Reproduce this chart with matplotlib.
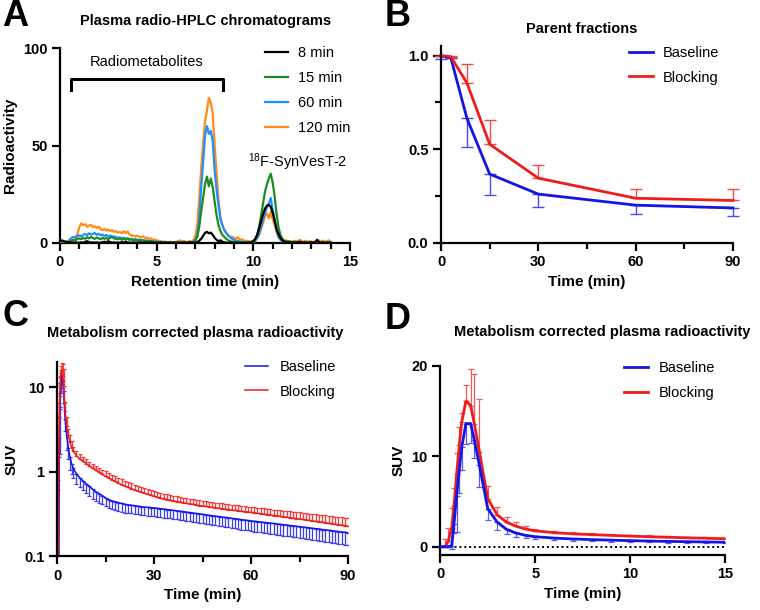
import numpy as np
import matplotlib
matplotlib.use("Agg")
import matplotlib.pyplot as plt
from matplotlib.ticker import MultipleLocator, FixedLocator, NullLocator

plt.rcParams["font.family"] = ["Liberation Sans", "DejaVu Sans"]
plt.rcParams["font.weight"] = "bold"
plt.rcParams["axes.labelweight"] = "bold"
plt.rcParams["axes.linewidth"] = 1.6

# ---------------- A: radio-HPLC chromatograms (0.1 min sampling) ----------------
RT = np.round(np.arange(141) * 0.1, 1)

HPLC_8 = [
    1.0, 1.2, 0.8, 0.5, 0.3, 0.2, 0, 0, 0.1, 0,
    0, 0.2, 0, 0.5, 0.8, 0.3, 0, 0.2, 0, 0.1,
    0, 0, 0.3, 0.5, 0.2, 0.8, 0.3, 0, 0.2, 0,
    0.1, 0, 0.3, 0, 0.5, 0.2, 0, 0, 0.1, 0,
    0, 0.2, 0, 0, 0.1, 0, 0, 0.2, 0, 0,
    0, 0, 0.1, 0, 0, 0, 0.1, 0, 0, 0,
    0, 0, 0, 0.1, 0, 0, 0, 0.2, 0, 0,
    0, 0.3, 1.0, 2.0, 3.5, 5.0, 5.6, 4.8, 5.2, 4.0,
    2.5, 1.5, 0.8, 1.2, 0.5, 0.2, 0, 0, 0.1, 0,
    0, 0, 0, 0.1, 0, 0, 0, 0, 0.1, 0.2,
    0.8, 2.0, 4.0, 7.5, 11.0, 14.5, 17.5, 19.0, 19.5, 18.5,
    15.5, 11.5, 7.0, 4.5, 2.5, 1.2, 0.6, 0.3, 0.2, 0.1,
    0, 0.1, 0, 0.2, 0.5, 0.2, 0, 0.1, 0, 0,
    0.2, 0, 0.1, 1.5, 0.2, 0, 0.1, 0, 0, 0,
    0,
]
HPLC_15 = [
    0, 0, 0, 0, 0.3, 0.5, 1.0, 1.5, 1.2, 2.0,
    2.2, 1.8, 2.5, 2.0, 2.8, 2.2, 3.0, 2.4, 2.0, 2.6,
    2.2, 1.8, 2.5, 2.0, 2.4, 1.8, 2.6, 3.0, 2.2, 2.0,
    1.8, 2.2, 1.5, 2.0, 1.6, 2.2, 1.4, 1.8, 1.2, 1.5,
    1.2, 1.5, 1.0, 1.3, 0.8, 1.0, 0.6, 0.8, 0.5, 0.4,
    0.3, 0.2, 0.1, 0.2, 0, 0.1, 0, 0, 0.1, 0,
    0, 0, 0.1, 0, 0, 0.1, 0, 0, 0.2, 0.3,
    1.0, 3.0, 8.0, 16.0, 23.0, 30.0, 34.0, 29.0, 33.0, 28.5,
    21.0, 14.0, 9.0, 6.0, 4.0, 3.0, 2.0, 1.2, 0.8, 0.5,
    0.3, 0.2, 0.1, 0, 0.1, 0, 0, 0.1, 0, 0.2,
    0.5, 1.5, 4.0, 8.0, 14.0, 20.0, 26.0, 30.0, 33.0, 35.5,
    31.0, 24.0, 15.0, 8.0, 4.0, 2.0, 1.0, 0.5, 0.8, 0.5,
    0.3, 0.5, 0.2, 0.4, 0.2, 0.3, 0.1, 0.2, 0.1, 0,
    0, 0.1, 0, 0.1, 0, 0, 0.1, 0, 0, 0,
    0,
]
HPLC_60 = [
    0, 0, 0, 0.2, 0.5, 1.5, 2.5, 3.0, 2.8, 3.5,
    3.8, 3.2, 4.0, 4.5, 3.8, 4.8, 4.2, 4.5, 5.0, 4.0,
    4.6, 3.8, 4.2, 3.5, 4.0, 3.2, 3.6, 3.0, 3.3, 2.8,
    2.5, 2.8, 2.2, 2.6, 2.0, 2.3, 1.8, 2.0, 1.6, 1.8,
    1.5, 1.2, 1.6, 1.0, 1.2, 0.8, 1.0, 0.6, 0.8, 0.5,
    0.5, 0.3, 0.4, 0.2, 0.2, 0.1, 0.2, 0, 0.1, 0,
    0, 0.1, 0, 0.2, 0, 0.1, 0, 0.2, 0.3, 0.5,
    1.5, 4.0, 12.0, 28.0, 41.0, 55.0, 60.0, 56.0, 57.5, 52.0,
    37.0, 27.0, 19.0, 12.0, 9.0, 6.5, 5.0, 3.5, 2.8, 2.0,
    1.5, 1.0, 0.8, 0.5, 0.4, 0.3, 0.2, 0.1, 0.1, 0.2,
    0.4, 1.0, 2.5, 4.5, 8.0, 12.0, 15.0, 18.0, 20.0, 23.0,
    17.0, 12.0, 6.5, 3.0, 1.5, 0.8, 0.4, 0.3, 0.2, 0.1,
    0.1, 0, 0.2, 0, 0.1, 0, 0.2, 0, 0.1, 0,
    0, 0.1, 0, 0.2, 0, 0, 0.1, 0, 0, 0.1,
    0,
]
HPLC_120 = [
    0, 0, 0, 0.3, 0.5, 0.5, 0.8, 1.0, 2.0, 4.5,
    8.0, 10.0, 9.0, 9.5, 8.2, 8.8, 9.2, 8.0, 8.5, 7.6,
    8.3, 7.0, 6.4, 7.2, 6.2, 6.8, 6.0, 6.5, 5.6, 5.9,
    5.2, 5.5, 4.8, 6.0, 5.0, 5.8, 4.2, 3.8, 3.5, 3.2,
    3.6, 3.0, 2.8, 3.3, 2.5, 2.6, 2.0, 2.2, 1.6, 1.5,
    1.2, 1.0, 0.8, 0.5, 0.6, 0.4, 0.3, 0.5, 0.2, 0.3,
    0.5, 0.8, 1.2, 0.6, 0.9, 0.5, 0.4, 0.8, 0.6, 1.2,
    3.5, 9.0, 22.0, 38.0, 51.0, 62.0, 68.0, 74.5, 72.0, 66.5,
    50.0, 36.0, 22.0, 13.0, 9.0, 6.5, 5.0, 4.0, 3.2, 3.0,
    2.6, 2.0, 2.8, 1.5, 1.8, 1.2, 0.8, 1.0, 0.6, 0.8,
    1.0, 1.2, 2.5, 4.0, 7.0, 10.0, 13.5, 15.0, 12.5, 16.0,
    12.0, 9.0, 5.5, 3.0, 1.5, 1.0, 0.8, 1.2, 0.6, 0.8,
    0.5, 0.8, 1.0, 0.6, 1.5, 0.8, 0.5, 1.0, 0.4, 0.8,
    0.6, 0.3, 0.8, 0.5, 1.2, 0.6, 1.0, 0.5, 0.8, 1.2,
    0.5,
]
HPLC_LABELS = ["8 min", "15 min", "60 min", "120 min"]
HPLC_COLORS = ["#000000", "#1f8a1f", "#1e90ff", "#ff8c1a"]

# ---------------- B: parent fractions ----------------
PF_T = [0, 3, 8, 15, 30, 60, 90]
PF_BASE = [1.0, 0.99, 0.665, 0.368, 0.261, 0.202, 0.187]
PF_BASE_ERR = [0.02, 0.0, 0.15, 0.11, 0.068, 0.045, 0.044]
PF_BLOCK = [1.0, 0.995, 0.854, 0.527, 0.346, 0.239, 0.227]
PF_BLOCK_ERR = [0.0, 0.005, 0.10, 0.127, 0.068, 0.05, 0.062]

# ---------------- C / D: metabolite-corrected plasma SUV ----------------
SUV_T = [0, 0.25, 0.42, 0.6, 0.72, 0.86, 1.0, 1.13, 1.35, 1.6, 1.79, 2.06,
         2.5, 3.0, 3.5, 4.0, 4.5, 5.0] + list(range(6, 91))

SUV_BASE = [
    0, 0, 0, 0.1, 2.5, 5.6, 8.5, 11.0, 13.6, 13.6, 11.8, 9.0,
    4.2, 2.7, 1.9, 1.5, 1.25, 1.1,
    0.95, 0.85, 0.78, 0.72, 0.67, 0.62, 0.58, 0.55, 0.52, 0.49,
    0.465, 0.45, 0.44, 0.43, 0.42, 0.41, 0.405, 0.40, 0.395, 0.39,
    0.385, 0.38, 0.378, 0.375, 0.372,
    0.368, 0.364, 0.36, 0.356, 0.352, 0.348, 0.344, 0.34, 0.336, 0.332,
    0.328, 0.324, 0.32, 0.316, 0.312, 0.308, 0.304, 0.30, 0.297, 0.294,
    0.29, 0.287, 0.284, 0.28, 0.277, 0.274, 0.27, 0.267, 0.264, 0.261,
    0.258, 0.256, 0.253, 0.250, 0.248, 0.245, 0.243, 0.240, 0.238, 0.235,
    0.233, 0.230, 0.228, 0.225, 0.223, 0.220, 0.218, 0.216, 0.213, 0.211,
    0.209, 0.206, 0.204, 0.202, 0.200, 0.197, 0.195, 0.193, 0.191, 0.189,
]
SUV_BASE_ERR = [
    0, 0, 0, 0.35, 1.0, 4.0, 2.6, 2.5, 2.3, 2.1, 2.0, 2.4,
    1.2, 0.9, 0.5, 0.45, 0.3, 0.25,
    0.24, 0.2, 0.18, 0.16, 0.15, 0.14, 0.13, 0.12, 0.11, 0.1,
    0.095, 0.09, 0.088, 0.085, 0.083, 0.082, 0.081, 0.08, 0.079, 0.078,
    0.078, 0.077, 0.076, 0.076, 0.075,
    0.075, 0.074, 0.074, 0.073, 0.073, 0.072, 0.072, 0.071, 0.071, 0.070,
    0.070, 0.069, 0.069, 0.068, 0.068, 0.068, 0.067, 0.067, 0.066, 0.066,
    0.066, 0.065, 0.065, 0.065, 0.064, 0.064, 0.064, 0.063, 0.063, 0.063,
    0.063, 0.063, 0.062, 0.062, 0.062, 0.061, 0.061, 0.061, 0.060, 0.060,
    0.060, 0.059, 0.059, 0.059, 0.058, 0.058, 0.058, 0.058, 0.057, 0.057,
    0.057, 0.057, 0.056, 0.056, 0.056, 0.056, 0.055, 0.055, 0.055, 0.055,
]
SUV_BLOCK = [
    0, 0, 0.6, 2.1, 4.5, 8.0, 11.2, 13.8, 16.1, 15.6, 13.6, 10.5,
    5.3, 3.5, 2.7, 2.25, 1.95, 1.75,
    1.55, 1.42, 1.33, 1.25, 1.17, 1.10, 1.04, 0.98, 0.93, 0.88,
    0.84, 0.80, 0.765, 0.73, 0.70, 0.675, 0.65, 0.628, 0.608, 0.59,
    0.572, 0.556, 0.54, 0.525, 0.51,
    0.498, 0.487, 0.477, 0.467, 0.458, 0.45, 0.442, 0.435, 0.428, 0.421,
    0.415, 0.409, 0.403, 0.397, 0.392, 0.387, 0.382, 0.377, 0.372, 0.368,
    0.363, 0.359, 0.355, 0.351, 0.347, 0.343, 0.339, 0.336, 0.332, 0.329,
    0.325, 0.321, 0.317, 0.313, 0.31, 0.306, 0.302, 0.299, 0.295, 0.292,
    0.288, 0.285, 0.281, 0.278, 0.274, 0.271, 0.267, 0.264, 0.261, 0.257,
    0.254, 0.251, 0.248, 0.244, 0.241, 0.238, 0.235, 0.232, 0.229, 0.226,
]
SUV_BLOCK_ERR = [
    0, 0.8, 1.5, 2.2, 2.0, 2.3, 2.0, 1.0, 1.8, 4.0, 5.5, 5.8,
    1.4, 0.9, 0.55, 0.5, 0.35, 0.2,
    0.2, 0.18, 0.17, 0.16, 0.15, 0.15, 0.14, 0.14, 0.13, 0.13,
    0.13, 0.125, 0.12, 0.115, 0.11, 0.105, 0.1, 0.097, 0.094, 0.09,
    0.087, 0.084, 0.081, 0.078, 0.075,
    0.074, 0.073, 0.072, 0.071, 0.07, 0.069, 0.068, 0.067, 0.066, 0.065,
    0.064, 0.063, 0.062, 0.061, 0.06, 0.06, 0.059, 0.059, 0.058, 0.058,
    0.057, 0.057, 0.056, 0.056, 0.055, 0.055, 0.054, 0.054, 0.054, 0.053,
    0.053, 0.053, 0.053, 0.053, 0.053, 0.053, 0.054, 0.054, 0.054, 0.054,
    0.054, 0.054, 0.054, 0.054, 0.055, 0.055, 0.055, 0.055, 0.055, 0.055,
    0.055, 0.055, 0.055, 0.056, 0.056, 0.056, 0.056, 0.056, 0.056, 0.056,
]

BLUE = "#1414e6"
RED = "#ee1c1c"

W, H = 760, 610


def rect(x0, y_top, x1, y_bot):
    return [x0 / W, 1 - y_bot / H, (x1 - x0) / W, (y_bot - y_top) / H]


def fig_text(x, y, s, **kw):
    fig.text(x / W, 1 - y / H, s, **kw)


def style_axis(ax):
    for side in ("top", "right"):
        ax.spines[side].set_visible(False)
    ax.tick_params(which="major", direction="out", length=6, width=1.6,
                   labelsize=10.5, pad=3)
    ax.tick_params(which="minor", direction="out", length=4, width=1.6)


def down_up(err, direction):
    err = np.asarray(err, dtype=float)
    zero = np.zeros_like(err)
    return [err, zero] if direction == "down" else [zero, err]


fig = plt.figure(figsize=(W / 100, H / 100), dpi=100)

# ---------- panel A ----------
ax_a = fig.add_axes(rect(60, 48.3, 350, 242.7))
series = [HPLC_8, HPLC_15, HPLC_60, HPLC_120]
for i, (vals, lab, col) in enumerate(zip(series, HPLC_LABELS, HPLC_COLORS)):
    ax_a.plot(RT, vals, color=col, lw=1.6, label=lab, zorder=10 - i)
ax_a.set_xlim(0, 15)
ax_a.set_ylim(0, 100)
ax_a.xaxis.set_major_locator(MultipleLocator(5))
ax_a.xaxis.set_minor_locator(MultipleLocator(1))
ax_a.yaxis.set_major_locator(MultipleLocator(50))
ax_a.set_xlabel("Retention time (min)", fontsize=11, labelpad=4)
ax_a.set_ylabel("Radioactivity", fontsize=11, labelpad=4)
style_axis(ax_a)
ax_a.plot([0.57, 0.57, 8.42, 8.42], [78.5, 84.2, 84.2, 78.5], color="black",
          lw=2.2, clip_on=False)
ax_a.text(4.5, 93, "Radiometabolites", ha="center", va="center",
          fontsize=10.5, fontweight="normal")
ax_a.text(12.3, 41.5, r"$\mathregular{^{18}}$F-SynVesT-2", ha="center",
          va="center", fontsize=10.5, fontweight="normal")
ax_a.legend(loc="upper left", bbox_to_anchor=(0.66, 1.08), frameon=False,
            handlelength=1.6, handletextpad=0.7, labelspacing=0.75,
            prop={"weight": "normal", "size": 10.5})

# ---------- panel B ----------
ax_b = fig.add_axes(rect(441, 46.3, 733, 243))
ax_b.errorbar(PF_T, PF_BASE, yerr=down_up(PF_BASE_ERR, "down"), color=BLUE,
              ecolor="#4a4af0", elinewidth=1, capsize=4, capthick=1, lw=2,
              label="Baseline", clip_on=False)
ax_b.errorbar(PF_T, PF_BLOCK, yerr=down_up(PF_BLOCK_ERR, "up"), color=RED,
              ecolor="#f04a4a", elinewidth=1, capsize=4, capthick=1, lw=2,
              label="Blocking", clip_on=False)
ax_b.set_xlim(0, 90)
ax_b.set_ylim(0, 1.05)
ax_b.xaxis.set_major_locator(MultipleLocator(30))
ax_b.xaxis.set_minor_locator(MultipleLocator(15))
ax_b.yaxis.set_major_locator(MultipleLocator(0.5))
ax_b.yaxis.set_minor_locator(MultipleLocator(0.25))
ax_b.yaxis.set_major_formatter(plt.FormatStrFormatter("%.1f"))
ax_b.set_xlabel("Time (min)", fontsize=11, labelpad=4)
style_axis(ax_b)
h, l = ax_b.get_legend_handles_labels()
ax_b.legend([x[0] for x in h], l, loc="upper left", bbox_to_anchor=(0.6, 1.07),
            frameon=False, handlelength=1.6, handletextpad=0.7,
            labelspacing=0.75, prop={"weight": "normal", "size": 10.5})

# ---------- panel C ----------
ax_c = fig.add_axes(rect(57, 362, 348, 556))
ax_c.set_yscale("log")
ax_c.errorbar(SUV_T, SUV_BASE, yerr=down_up(SUV_BASE_ERR, "down"), color=BLUE,
              ecolor="#3c3cf0", elinewidth=0.9, capsize=1.6, capthick=0.9,
              lw=1.1, label="Baseline")
ax_c.errorbar(SUV_T, SUV_BLOCK, yerr=down_up(SUV_BLOCK_ERR, "up"), color=RED,
              ecolor="#f03c3c", elinewidth=0.9, capsize=1.6, capthick=0.9,
              lw=1.1, label="Blocking")
ax_c.set_xlim(0, 90)
ax_c.set_ylim(0.1, 20)
ax_c.xaxis.set_major_locator(MultipleLocator(30))
ax_c.xaxis.set_minor_locator(MultipleLocator(15))
ax_c.yaxis.set_major_locator(FixedLocator([0.1, 1, 10]))
ax_c.yaxis.set_minor_locator(NullLocator())
ax_c.set_yticklabels(["0.1", "1", "10"])
ax_c.set_xlabel("Time (min)", fontsize=11, labelpad=4)
ax_c.set_ylabel("SUV", fontsize=11, labelpad=4)
style_axis(ax_c)
h, l = ax_c.get_legend_handles_labels()
ax_c.legend([x[0] for x in h], l, loc="upper left", bbox_to_anchor=(0.6, 1.08),
            frameon=False, handlelength=1.6, handletextpad=0.8,
            labelspacing=0.75, prop={"weight": "normal", "size": 10.5})

# ---------- panel D ----------
ax_d = fig.add_axes(rect(440.3, 365.7, 725, 555))
ax_d.axhline(0, color="black", lw=1.4, ls=(0, (1, 1.5)), zorder=1)
ax_d.errorbar(SUV_T, SUV_BASE, yerr=down_up(SUV_BASE_ERR, "down"), color=BLUE,
              ecolor="#5a5af0", elinewidth=0.9, capsize=2, capthick=0.9,
              lw=2, label="Baseline", zorder=3)
ax_d.errorbar(SUV_T, SUV_BLOCK, yerr=down_up(SUV_BLOCK_ERR, "up"), color=RED,
              ecolor="#f05a5a", elinewidth=0.9, capsize=2, capthick=0.9,
              lw=2, label="Blocking", zorder=2)
ax_d.set_xlim(0, 15)
ax_d.set_ylim(-0.92, 20)
ax_d.xaxis.set_major_locator(MultipleLocator(5))
ax_d.yaxis.set_major_locator(MultipleLocator(10))
ax_d.set_xlabel("Time (min)", fontsize=11, labelpad=4)
ax_d.set_ylabel("SUV", fontsize=11, labelpad=4)
style_axis(ax_d)
h, l = ax_d.get_legend_handles_labels()
ax_d.legend([x[0] for x in h], l, loc="upper left", bbox_to_anchor=(0.6, 1.095),
            frameon=False, handlelength=1.6, handletextpad=0.8,
            labelspacing=0.75, prop={"weight": "normal", "size": 10.5})

# ---------- titles and panel letters ----------
fig_text(206, 21, "Plasma radio-HPLC chromatograms", ha="center", va="center",
         fontsize=10.5)
fig_text(582, 29, "Parent fractions", ha="center", va="center", fontsize=10.5)
fig_text(195, 333, "Metabolism corrected plasma radioactivity", ha="center",
         va="center", fontsize=10.5)
fig_text(602, 332, "Metabolism corrected plasma radioactivity", ha="center",
         va="center", fontsize=10.5)
for letter, x, y in [("A", 2, 17), ("B", 385, 17), ("C", 2, 316), ("D", 385, 319)]:
    fig_text(x, y, letter, ha="left", va="center", fontsize=26)

fig.savefig("out.png", dpi=100)
